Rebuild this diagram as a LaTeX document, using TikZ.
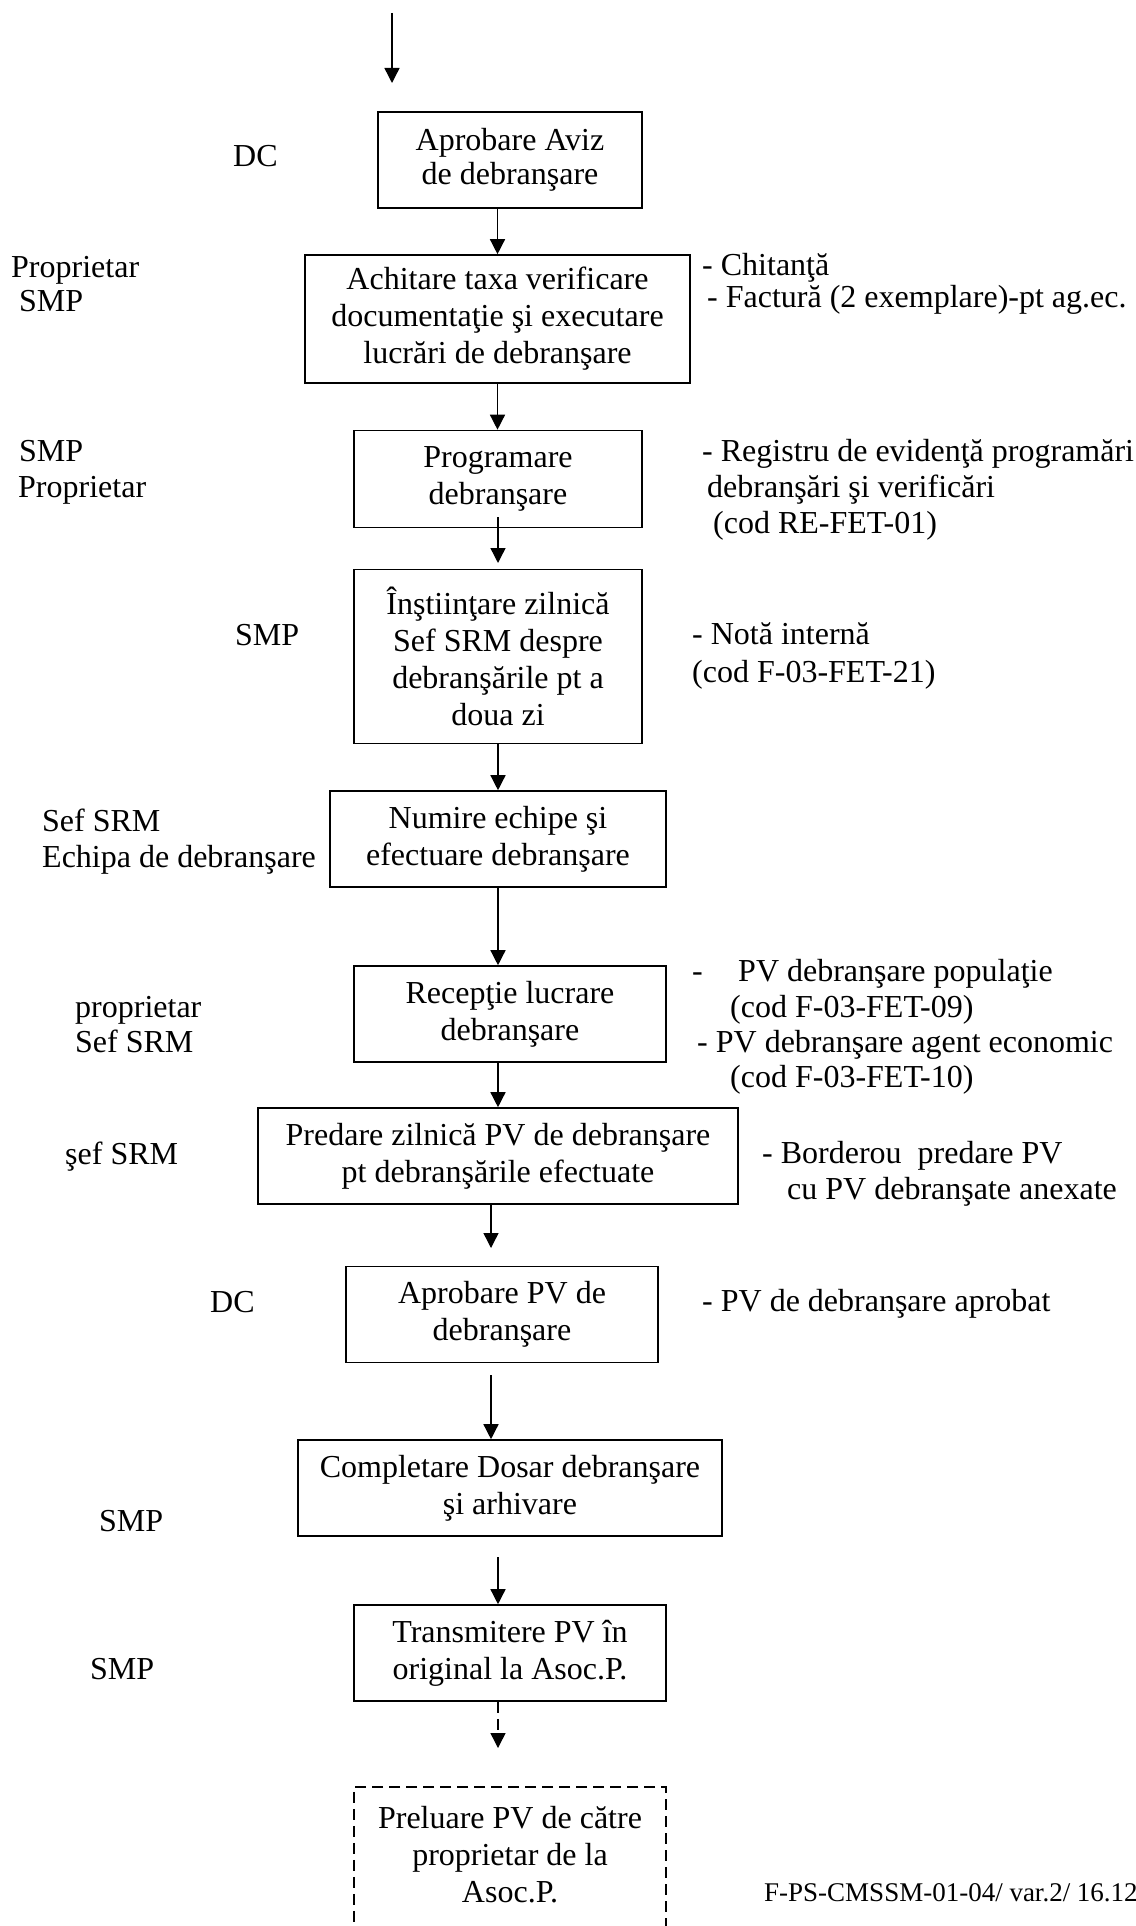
\documentclass[tikz,border=0pt]{standalone}
\usepackage{fontspec}
\setmainfont{Liberation Serif}
\usetikzlibrary{arrows.meta}
\begin{document}
\begin{tikzpicture}[x=1pt,y=-1pt,
  box/.style={draw, line width=1.6pt, align=center, inner sep=0pt, font=\fontsize{32}{37}\selectfont},
  txt/.style={align=center, inner sep=0pt, font=\fontsize{32}{37}\selectfont},
  lbl/.style={anchor=west, inner sep=0pt, font=\fontsize{32}{37}\selectfont, text height=23pt, text depth=5pt},
  arr/.style={line width=1.4pt, -{Triangle[length=15pt,width=15pt]}},
  dsh/.style={dash pattern=on 11pt off 6pt},
]
\useasboundingbox (0,0) rectangle (1135,1926);
\fill[white] (0,0) rectangle (1135,1926);

% boxes
\node[box, font=\fontsize{32}{34}\selectfont, minimum width=264pt, minimum height=96pt] (b1) at (510,160) {Aprobare Aviz\\de debranşare};
\node[box, minimum width=385pt, minimum height=128pt] (b2) at (497.5,319) {Achitare taxa verificare\\documentaţie şi executare\\lucrări de debranşare};
\node[box, minimum width=288pt, minimum height=97pt] (b3) at (498,479) {Programare\\debranşare};
\node[box, minimum width=288pt, minimum height=174pt] (b4) at (498,656.5) {Înştiinţare zilnică\\Sef SRM despre\\debranşările pt a\\doua zi};
\node[box, minimum width=336pt, minimum height=96pt] (b5) at (498,839) {Numire echipe şi\\efectuare debranşare};
\node[box, minimum width=312pt, minimum height=96pt] (b6) at (510,1014) {Recepţie lucrare\\debranşare};
\node[box, minimum width=480pt, minimum height=96pt] (b7) at (498,1156) {Predare zilnică PV de debranşare\\pt debranşările efectuate};
\node[box, minimum width=312pt, minimum height=96pt] (b8) at (502,1314.5) {Aprobare PV de\\debranşare};
\node[box, minimum width=424pt, minimum height=96pt] (b9) at (510,1488) {Completare Dosar debranşare\\şi arhivare};
\node[box, minimum width=312pt, minimum height=96pt] (b10) at (510,1653) {Transmitere PV în\\original la Asoc.P.};
\node[box, dsh, minimum width=312pt, minimum height=170pt, anchor=north] (b11) at (510,1786) {};
\node[txt] (t11) at (510,1855) {Preluare PV de către\\proprietar de la\\Asoc.P.};

% arrows
\coordinate (s0) at (392,13);
\coordinate (e0) at (392,83);
\draw[arr] (s0) -- (e0);
\draw[arr] (b1.south -| b2.north) -- (b2.north);
\draw[arr] (b2.south) -- (b2.south |- b3.north);
\coordinate (c34s) at (498,517);
\coordinate (c34e) at (498,563);
\draw[arr] (c34s) -- (c34e);
\draw[arr] (b4.south) -- (b4.south |- b5.north);
\draw[arr] (b5.south) -- (b5.south |- b6.north);
\draw[arr] (b6.south -| b7.north) -- (b7.north);
\coordinate (c78) at (491,1248);
\draw[arr] (b7.south -| c78) -- (c78);
\coordinate (c89) at (491,1375);
\draw[arr] (c89) -- (c89 |- b9.north);
\coordinate (c910) at (498,1557);
\draw[arr] (c910) -- (c910 |- b10.north);
\coordinate (c1011) at (498,1748);
\draw[arr, dsh] (b10.south -| c1011) -- (c1011);

% left labels
\node[lbl] (l1) at (233,158) {DC};
\node[lbl] (l2a) at (11,268) {Proprietar};
\node[lbl] (l2b) at (19,302) {SMP};
\node[lbl] (l3a) at (19,452) {SMP};
\node[lbl] (l3b) at (18,488) {Proprietar};
\node[lbl] (l4) at (235,636) {SMP};
\node[lbl] (l5a) at (42,822) {Sef SRM};
\node[lbl] (l5b) at (42,858) {Echipa de debranşare};
\node[lbl] (l6a) at (75,1008) {proprietar};
\node[lbl] (l6b) at (75,1043) {Sef SRM};
\node[lbl] (l7) at (65,1155) {şef SRM};
\node[lbl] (l8) at (210,1303) {DC};
\node[lbl] (l9) at (99,1522) {SMP};
\node[lbl] (l10) at (90,1670) {SMP};

% right labels
\node[lbl] (r2a) at (702,267) {- Chitanţă};
\node[lbl] (r2b) at (707,298) {- Factură (2 exemplare)-pt ag.ec.};
\node[lbl] (r3a) at (702,452) {- Registru de evidenţă programări};
\node[lbl] (r3b) at (707,488) {debranşări şi verificări};
\node[lbl] (r3c) at (713,524) {(cod RE-FET-01)};
\node[lbl] (r4a) at (692,635) {- Notă internă};
\node[lbl] (r4b) at (692,673) {(cod F-03-FET-21)};
\node[lbl] (r6d) at (692,972) {-};
\node[lbl] (r6a) at (738,972) {PV debranşare populaţie};
\node[lbl] (r6b) at (730,1008) {(cod F-03-FET-09)};
\node[lbl] (r6c) at (697,1043) {- PV debranşare agent economic};
\node[lbl] (r6e) at (730,1078) {(cod F-03-FET-10)};
\node[lbl] (r7a) at (762,1154) {- Borderou\ \ predare PV};
\node[lbl] (r7b) at (787,1190) {cu PV debranşate anexate};
\node[lbl] (r8) at (702,1302) {- PV de debranşare aprobat};
\node[lbl, font=\fontsize{27}{31}\selectfont] (foot) at (764,1892) {F-PS-CMSSM-01-04/ var.2/ 16.12};
\end{tikzpicture}
\end{document}
